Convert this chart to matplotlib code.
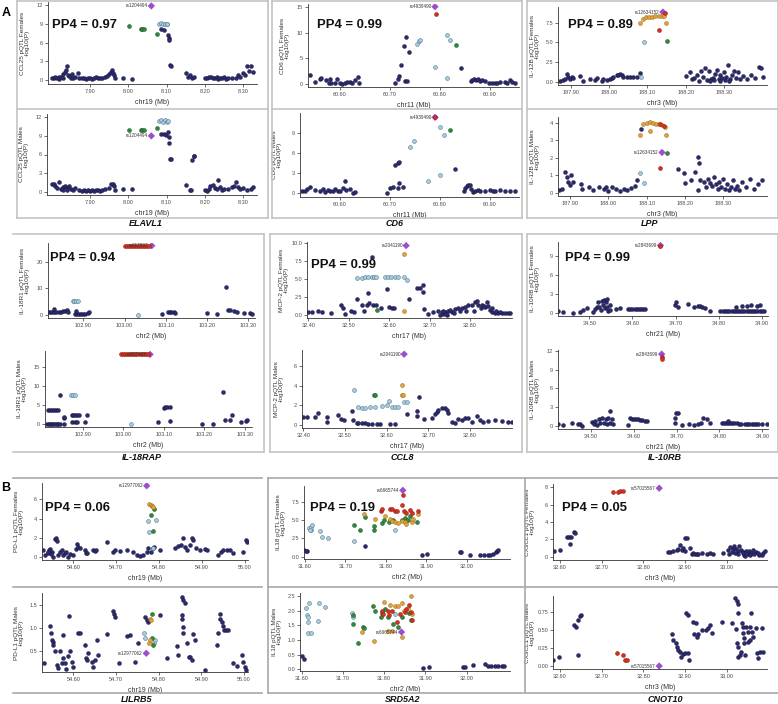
import matplotlib
matplotlib.use("Agg")
import matplotlib.pyplot as plt
from matplotlib.lines import Line2D

plt.rcParams['font.family'] = ['Liberation Sans', 'DejaVu Sans']

# ---------------------------------------------------------------- data
GENES = ["ELAVL1", "CD6", "LPP", "IL-18RAP", "CCL8", "IL-10RB", "LILRB5", "SRD5A2", "CNOT10"]
PROTEINS = ["CCL25", "CD6", "IL-12B", "IL-18R1", "MCP-2", "IL-10RB", "PD-L1", "IL18", "CX3CL1"]
CHROMS = ["chr19", "chr11", "chr3", "chr2", "chr17", "chr21", "chr19", "chr2", "chr3"]
PP4 = [0.97, 0.99, 0.89, 0.94, 0.99, 0.99, 0.06, 0.19, 0.05]
X_TICKS = [[7.90, 8.00, 8.10, 8.20, 8.30], [60.60, 60.70, 60.80, 60.90],
           [187.90, 188.00, 188.10, 188.20, 188.30], [102.90, 103.00, 103.10, 103.20, 103.30],
           [32.40, 32.50, 32.60, 32.70, 32.80], [34.50, 34.60, 34.70, 34.80, 34.90],
           [54.60, 54.70, 54.80, 54.90, 55.00], [31.60, 31.70, 31.80, 31.90, 32.00],
           [32.60, 32.70, 32.80, 32.90, 33.00]]
Y_TICKS_F = [["0", "3", "6", "9", "12"], ["0", "5", "10", "15"], ["0.0", "2.5", "5.0", "7.5"],
             ["0", "10", "20"], ["0.0", "2.5", "5.0", "7.5", "10.0"], ["0", "3", "6", "9"],
             ["0", "2", "4", "6"], ["0.0", "2.5", "5.0", "7.5"], ["0", "2", "4", "6", "8"]]
Y_TICKS_M = [["0", "3", "6", "9", "12"], ["0", "3", "6", "9"], ["0", "1", "2", "3", "4"],
             ["0", "5", "10", "15"], ["0", "2", "4", "6"], ["0", "3", "6", "9", "12"],
             ["0.5", "1.0", "1.5"], ["0.0", "0.5", "1.0", "1.5", "2.0", "2.5"],
             ["0.00", "0.25", "0.50", "0.75"]]
LEAD_SNP = ["rs1204494", "rs4939490", "rs12634152", "rs917997", "rs2041190",
            "rs2843699", "rs12977062", "rs6665744", "rs57015567"]
LEAD_POS = [8.06, 60.79, 188.14, 103.066, 32.642, 34.665, 54.771, 31.842, 32.838]
LEAD_F = [11.85, 15.0, 8.85, 26.0, 9.6, 10.6, 7.4, 9.1, 7.9]
LEAD_M = [9.0, 11.4, 2.3, 18.2, 7.2, 11.5, 0.45, 1.27, 0.0]

# ELAVL1 / CCL25
ELAVL1_F_NAVY = [(7.800,0.4),(7.805,0.3),(7.810,0.5),(7.815,0.4),(7.820,0.2),(7.820,0.6),(7.825,0.5),
    (7.830,1.0),(7.830,0.4),(7.835,1.3),(7.838,1.6),(7.840,2.2),(7.842,0.9),(7.845,0.7),(7.850,0.4),
    (7.852,1.0),(7.855,0.3),(7.860,0.5),(7.868,1.1),(7.872,0.3),(7.880,0.3),(7.885,0.4),(7.890,0.2),
    (7.895,0.3),(7.900,0.4),(7.905,0.2),(7.910,0.3),(7.915,0.5),(7.920,0.3),(7.925,0.4),(7.930,0.3),
    (7.940,0.6),(7.945,0.7),(7.950,1.0),(7.955,1.3),(7.957,1.6),(7.960,1.2),(7.962,0.8),(7.965,0.4),
    (7.985,0.4),(8.010,0.2),(8.085,8.1),(8.092,8.0),(8.104,7.2),(8.105,6.7),(8.106,6.4),(8.108,2.4),
    (8.110,2.3),(8.150,1.1),(8.155,0.6),(8.160,0.9),(8.165,0.3),(8.170,0.5),(8.200,0.4),(8.205,0.3),
    (8.210,0.5),(8.215,0.6),(8.220,0.4),(8.225,0.3),(8.230,0.5),(8.235,0.2),(8.240,0.4),(8.245,0.3),
    (8.250,0.5),(8.255,0.2),(8.260,0.3),(8.270,0.4),(8.280,0.3),(8.285,0.8),(8.290,0.5),(8.300,1.2),
    (8.305,0.8),(8.310,2.2),(8.315,1.5),(8.320,2.3),(8.325,1.4)]
ELAVL1_F_BLUE = [(8.080,9.0),(8.085,9.1),(8.090,9.0),(8.095,9.05),(8.100,8.9),(8.102,9.0)]
ELAVL1_F_GREEN = [(8.003,8.6),(8.033,8.1),(8.036,8.1),(8.040,8.1),(8.075,7.3)]
ELAVL1_M_NAVY = [(7.800,1.2),(7.805,1.3),(7.810,0.9),(7.815,0.6),(7.820,1.5),(7.825,0.4),(7.830,0.8),
    (7.830,0.3),(7.835,1.0),(7.840,0.6),(7.840,0.2),(7.845,0.9),(7.850,0.5),(7.855,0.3),(7.860,0.6),
    (7.870,0.3),(7.880,0.1),(7.885,0.2),(7.890,0.15),(7.895,0.2),(7.900,0.1),(7.905,0.2),(7.910,0.15),
    (7.915,0.2),(7.920,0.25),(7.925,0.15),(7.930,0.2),(7.940,0.5),(7.950,0.6),(7.955,1.2),(7.960,1.3),
    (7.962,0.9),(7.965,0.3),(7.985,0.4),(8.010,0.4),(8.085,9.3),(8.092,9.3),(8.097,9.2),(8.104,9.6),
    (8.105,8.9),(8.106,7.9),(8.108,5.3),(8.110,5.2),(8.150,1.1),(8.160,0.3),(8.163,0.3),(8.167,5.1),
    (8.170,5.7),(8.172,5.8),(8.200,0.2),(8.205,0.1),(8.210,0.4),(8.213,0.9),(8.220,1.1),(8.225,0.6),
    (8.230,0.5),(8.235,1.9),(8.240,0.8),(8.245,0.3),(8.250,0.5),(8.260,0.4),(8.270,0.7),(8.275,1.0),
    (8.280,1.6),(8.285,0.8),(8.290,0.4),(8.300,0.6),(8.310,0.3),(8.320,0.5),(8.325,0.8)]
ELAVL1_M_BLUE = [(8.080,11.4),(8.085,11.5),(8.090,11.3),(8.095,11.5),(8.100,11.2),(8.103,11.4)]
ELAVL1_M_GREEN = [(8.003,10.0),(8.033,10.0),(8.036,10.0),(8.040,10.0),(8.075,10.2)]

# CD6
CD6_F_NAVY = [(60.540,1.8),(60.550,0.4),(60.560,1.1),(60.562,1.2),(60.573,0.9),(60.578,0.3),(60.580,1.0),
    (60.583,0.2),(60.590,0.2),(60.595,1.0),(60.600,0.3),(60.605,0.1),(60.610,0.2),(60.615,0.4),
    (60.620,0.5),(60.625,0.2),(60.630,0.8),(60.637,1.5),(60.638,0.3),(60.710,0.3),(60.716,1.0),
    (60.718,1.6),(60.723,3.7),(60.729,7.4),(60.733,9.1),(60.730,0.6),(60.735,0.6),(60.739,6.3),
    (60.843,3.2),(60.862,0.6),(60.865,0.9),(60.868,1.0),(60.872,0.8),(60.876,1.0),(60.880,0.7),
    (60.885,0.9),(60.890,0.6),(60.898,0.2),(60.905,0.3),(60.910,0.2),(60.915,0.3),(60.920,0.4),
    (60.930,0.5),(60.935,0.3),(60.940,0.8),(60.945,0.4),(60.950,0.3)]
CD6_F_BLUE = [(60.755,7.7),(60.758,8.3),(60.761,8.6),(60.790,3.4),(60.815,9.6),(60.815,1.2),(60.820,8.5)]
CD6_F_GREEN = [(60.832,7.5)]
CD6_F_RED = [(60.793,13.6)]
CD6_M_NAVY = [(60.523,0.4),(60.530,0.3),(60.535,0.6),(60.540,0.9),(60.550,0.5),(60.560,0.3),(60.565,0.7),
    (60.570,0.2),(60.575,0.5),(60.580,0.3),(60.585,0.4),(60.590,0.6),(60.595,0.3),(60.600,0.4),
    (60.605,0.8),(60.610,1.8),(60.612,0.5),(60.620,0.6),(60.625,0.1),(60.630,0.2),(60.693,0.1),
    (60.700,0.8),(60.705,0.9),(60.710,4.3),(60.715,4.6),(60.718,4.7),(60.718,1.6),(60.715,0.8),
    (60.725,0.9),(60.829,3.6),(60.847,0.3),(60.850,0.8),(60.853,1.1),(60.856,1.3),(60.860,1.2),
    (60.862,0.6),(60.865,0.2),(60.870,0.4),(60.875,0.5),(60.880,0.4),(60.890,0.3),(60.900,0.5),
    (60.905,0.4),(60.910,0.3),(60.920,0.5),(60.930,0.3),(60.940,0.4),(60.950,0.3)]
CD6_M_BLUE = [(60.740,7.0),(60.748,7.8),(60.775,1.9),(60.800,9.9),(60.800,2.7),(60.807,8.8)]
CD6_M_GREEN = [(60.819,9.5)]
CD6_M_RED = [(60.790,11.4)]

# LPP / IL-12B
LPP_F_NAVY = [(187.872,0.1),(187.881,0.2),(187.885,0.4),(187.891,1.0),(187.894,0.55),(187.898,0.3),
    (187.903,0.6),(187.907,0.45),(187.924,0.7),(187.931,0.1),(187.950,0.3),(187.963,0.2),(187.968,0.5),
    (187.981,0.15),(187.985,0.3),(187.994,0.2),(188.002,0.35),(188.007,0.5),(188.011,0.55),(188.020,0.9),
    (188.024,0.8),(188.028,1.0),(188.033,0.9),(188.037,0.6),(188.046,0.6),(188.054,0.65),(188.063,0.6),
    (188.072,0.55),(188.080,1.1),(188.200,0.7),(188.210,1.2),(188.215,0.3),(188.220,0.5),
    (188.230,0.9),(188.235,0.1),(188.240,1.3),(188.245,0.6),(188.250,1.8),(188.255,0.2),(188.260,1.3),
    (188.265,0.4),(188.270,0.5),(188.275,1.0),(188.280,1.5),(188.285,0.3),(188.290,0.9),(188.295,0.5),
    (188.300,1.2),(188.305,0.6),(188.310,2.1),(188.315,0.4),(188.320,0.9),(188.325,1.4),(188.330,0.5),
    (188.335,1.2),(188.340,0.4),(188.350,0.7),(188.360,0.3),(188.370,0.8),(188.380,0.5),(188.390,1.9),
    (188.395,1.7),(188.400,0.6),(188.262,0.15),(188.272,0.2),(188.288,0.1),(188.302,0.25),(188.312,0.1)]
LPP_F_BLUE = [(188.082,0.6),(188.090,5.1)]
LPP_F_GREEN = [(188.150,5.2)]
LPP_F_ORANGE = [(188.080,7.5),(188.087,8.0),(188.095,8.2),(188.104,8.2),(188.112,8.2),(188.120,8.3),
    (188.130,8.3),(188.138,8.4),(188.143,8.3),(188.147,7.5)]
LPP_F_RED = [(188.130,6.6),(188.145,8.7)]
LPP_M_NAVY = [(187.872,0.15),(187.880,0.2),(187.887,1.2),(187.891,0.9),(187.895,0.6),(187.900,0.45),
    (187.903,1.0),(187.908,0.6),(187.930,0.5),(187.932,0.2),(187.950,0.3),(187.960,0.15),(187.975,0.3),
    (187.990,0.2),(187.995,0.35),(188.000,0.1),(188.010,0.3),(188.020,0.2),(188.030,0.1),(188.040,0.2),
    (188.050,0.15),(188.060,0.25),(188.070,0.4),(188.075,0.7),(188.085,3.65),(188.183,1.35),
    (188.197,1.1),(188.200,0.55),(188.215,0.7),(188.225,1.2),(188.235,0.15),(188.233,2.05),(188.236,1.7),
    (188.240,0.7),(188.250,0.6),(188.255,0.3),(188.260,0.8),(188.265,0.55),(188.270,0.4),(188.275,0.9),
    (188.280,0.5),(188.285,0.2),(188.290,0.6),(188.295,0.35),(188.300,0.8),(188.305,0.2),(188.310,0.5),
    (188.315,0.15),(188.320,0.3),(188.325,0.7),(188.330,0.2),(188.335,0.4),(188.340,0.15),(188.350,0.6),
    (188.360,0.3),(188.370,0.8),(188.380,0.2),(188.390,0.5),(188.400,0.7)]
LPP_M_BLUE = [(188.083,1.1),(188.094,0.55)]
LPP_M_GREEN = [(188.152,2.25)]
LPP_M_ORANGE = [(188.083,3.3),(188.090,3.9),(188.100,4.0),(188.108,4.05),(188.117,4.0),(188.125,3.95),
    (188.133,3.9),(188.140,3.85),(188.148,3.75),(188.150,3.3),(188.110,3.5)]
LPP_M_RED = [(188.135,3.9),(188.145,3.8),(188.135,1.4)]

# IL-18RAP / IL-18R1
IL18RAP_F_NAVY = [(102.815,1.1),(102.820,1.2),(102.825,1.1),(102.830,1.3),(102.835,1.2),(102.840,1.2),
    (102.845,1.3),(102.850,1.4),(102.830,2.2),(102.855,1.5),(102.860,1.9),(102.862,1.0),(102.880,0.4),
    (102.885,0.3),(102.890,0.4),(102.895,0.3),(102.900,0.4),(102.905,0.35),(102.882,1.5),(102.912,0.9),
    (102.915,1.2),(103.090,0.3),(103.105,1.0),(103.110,1.1),(103.113,1.0),(103.120,1.0),(103.122,0.6),
    (103.200,0.6),(103.225,0.2),(103.245,10.4),(103.250,1.9),(103.255,1.9),(103.265,1.6),(103.272,1.2),
    (103.290,0.8),(103.305,0.7),(103.310,0.3)]
IL18RAP_F_BLUE = [(102.874,5.4),(102.878,5.4),(102.882,5.4),(102.886,5.4),(103.032,0.0)]
IL18RAP_F_RED = [(103.000,26.0),(103.005,26.0),(103.010,26.0),(103.015,26.0),(103.020,26.0),
    (103.025,26.0),(103.030,26.0),(103.035,26.0),(103.040,26.0),(103.045,26.0),(103.050,26.0),
    (103.055,26.0),(103.060,26.0)]
IL18RAP_M_NAVY = [(102.812,0.0),(102.816,0.0),(102.820,0.0),(102.824,0.0),(102.828,0.0),(102.832,0.0),
    (102.836,0.0),(102.840,0.0),(102.844,0.0),(102.815,3.7),(102.820,3.7),(102.825,3.7),(102.830,3.7),
    (102.835,3.7),(102.840,3.7),(102.845,7.7),(102.853,1.6),(102.855,1.9),(102.853,0.0),(102.873,2.3),
    (102.877,2.3),(102.882,2.3),(102.886,2.3),(102.890,2.3),(102.910,2.3),(102.873,0.5),(102.880,0.5),
    (102.887,0.5),(102.905,0.5),(103.085,0.7),(103.100,4.3),(103.103,4.4),(103.107,4.4),(103.115,4.4),
    (103.115,0.8),(103.195,0.1),(103.220,0.0),(103.245,8.3),(103.250,1.1),(103.262,1.1),(103.268,2.5),
    (103.290,0.7),(103.302,0.9),(103.305,1.1)]
IL18RAP_M_BLUE = [(102.872,7.7),(102.876,7.7),(102.880,7.7),(103.020,0.0)]
IL18RAP_M_RED = [(102.995,18.2),(103.000,18.2),(103.005,18.2),(103.010,18.2),(103.015,18.2),
    (103.020,18.2),(103.025,18.2),(103.030,18.2),(103.035,18.2),(103.040,18.2),(103.045,18.2),
    (103.050,18.2),(103.055,18.2),(103.060,18.2)]

# CCL8 / MCP-2
CCL8_F_NAVY = [(32.400,0.4),(32.408,0.4),(32.425,0.6),(32.433,0.4),(32.457,0.3),(32.480,1.4),(32.486,1.0),
    (32.490,0.1),(32.506,0.6),(32.513,0.4),(32.520,2.2),(32.534,1.4),(32.538,0.6),(32.546,1.4),(32.548,3.1),
    (32.550,1.6),(32.557,8.0),(32.560,1.4),(32.568,1.4),(32.580,1.0),(32.594,3.6),(32.600,1.1),
    (32.608,1.0),(32.612,0.9),(32.650,2.2),(32.670,3.8),(32.676,3.8),(32.684,4.1),(32.684,3.2),
    (32.686,0.8),(32.697,0.2),(32.709,0.4),(32.721,0.5),(32.725,0.0),(32.730,0.4),(32.734,0.1),
    (32.738,0.4),(32.742,0.0),(32.746,0.5),(32.755,0.4),(32.763,0.8),(32.771,0.9),(32.780,1.0),
    (32.788,1.1),(32.796,1.4),(32.804,1.4),(32.813,1.8),(32.817,1.9),(32.821,1.4),(32.829,1.4),
    (32.837,1.1),(32.842,1.8),(32.850,0.7),(32.854,0.4),(32.862,0.3),(32.870,0.3),(32.878,0.3),
    (32.886,0.3),(32.894,0.3),(32.900,0.3),(32.732,0.6),(32.740,0.2),(32.750,0.7),(32.760,0.3),
    (32.775,0.5),(32.790,0.6),(32.810,0.6),(32.826,0.9),(32.835,1.2),(32.845,1.2),(32.855,0.9),
    (32.865,0.5),(32.875,0.4)]
CCL8_F_BLUE = [(32.520,5.1),(32.532,5.1),(32.540,5.2),(32.548,5.3),(32.557,5.3),(32.563,5.3),(32.568,5.2),
    (32.589,5.2),(32.597,5.2),(32.605,5.3),(32.614,5.2),(32.622,5.2),(32.637,5.3),(32.643,4.9)]
CCL8_F_GREEN = [(32.570,0.7)]
CCL8_F_ORANGE = [(32.636,8.4),(32.636,0.5)]
CCL8_M_NAVY = [(32.400,0.85),(32.408,0.85),(32.428,0.85),(32.436,1.2),(32.456,0.85),(32.458,0.35),
    (32.484,1.0),(32.490,0.6),(32.498,0.5),(32.516,1.4),(32.520,0.5),(32.528,0.2),(32.532,0.2),
    (32.540,0.2),(32.548,0.2),(32.556,0.1),(32.566,0.1),(32.576,0.1),(32.584,0.1),(32.608,0.15),
    (32.620,0.15),(32.648,1.1),(32.672,1.4),(32.674,0.9),(32.678,2.8),(32.690,0.6),(32.708,0.75),
    (32.716,1.1),(32.720,1.35),(32.724,1.5),(32.732,1.7),(32.740,1.7),(32.744,1.5),(32.748,1.2),
    (32.756,0.35),(32.764,0.25),(32.772,0.6),(32.780,0.5),(32.788,0.7),(32.796,0.7),(32.804,0.35),
    (32.816,0.95),(32.824,0.5),(32.832,0.35),(32.844,0.4),(32.860,0.5),(32.876,0.4),(32.892,0.3),
    (32.900,0.35)]
CCL8_M_BLUE = [(32.522,3.6),(32.532,1.85),(32.540,1.7),(32.548,1.75),(32.560,1.85),(32.572,1.85),
    (32.588,1.95),(32.600,2.0),(32.606,2.4),(32.612,1.85),(32.620,1.85),(32.628,1.85),(32.642,2.3),
    (32.648,2.3)]
CCL8_M_GREEN = [(32.570,3.1),(32.573,3.1)]
CCL8_M_ORANGE = [(32.638,4.1),(32.636,3.1),(32.639,3.1)]

# IL-10RB
IL10RB_F_NAVY = [(34.428,0.35),(34.440,0.15),(34.463,0.1),(34.478,0.25),(34.486,0.5),(34.494,0.8),
    (34.509,0.25),(34.513,0.75),(34.517,1.0),(34.521,1.8),(34.523,1.0),(34.526,0.5),(34.529,1.9),
    (34.531,1.3),(34.534,2.1),(34.536,0.8),(34.538,1.7),(34.540,2.2),(34.542,1.0),(34.544,0.4),
    (34.547,1.3),(34.548,0.5),(34.562,0.65),(34.571,0.8),(34.590,0.75),(34.595,0.7),(34.600,0.7),
    (34.605,0.65),(34.610,0.7),(34.615,0.6),(34.620,0.7),(34.625,0.65),(34.630,0.7),(34.699,1.3),
    (34.702,1.8),(34.705,1.0),(34.730,1.5),(34.742,1.0),(34.753,1.2),(34.756,1.2),(34.761,1.0),
    (34.769,0.9),(34.779,0.4),(34.804,0.35),(34.810,0.3),(34.815,0.35),(34.820,0.3),(34.825,0.35),
    (34.830,0.4),(34.835,0.3),(34.840,0.35),(34.845,0.3),(34.850,0.35),(34.855,0.35),(34.860,0.3),
    (34.865,0.35),(34.870,0.3),(34.875,0.35),(34.880,0.3),(34.885,0.35),(34.890,0.3),(34.895,0.35),
    (34.900,0.35),(34.905,0.3),(34.840,1.0),(34.855,1.2),(34.865,1.2),(34.875,1.3),(34.890,1.2),
    (34.895,1.3)]
IL10RB_F_RED = [(34.665,10.5)]
IL10RB_M_NAVY = [(34.424,0.2),(34.435,0.1),(34.455,0.5),(34.470,0.35),(34.474,0.2),(34.478,0.0),
    (34.502,0.6),(34.506,0.3),(34.510,0.8),(34.514,0.1),(34.518,1.1),(34.522,0.5),(34.526,1.2),
    (34.530,0.4),(34.534,1.0),(34.538,0.2),(34.540,1.2),(34.544,0.5),(34.545,2.3),(34.548,1.1),
    (34.552,0.3),(34.587,0.1),(34.590,1.2),(34.595,1.1),(34.600,1.1),(34.605,1.0),(34.610,1.0),
    (34.615,0.9),(34.620,0.9),(34.625,0.8),(34.630,0.7),(34.696,1.2),(34.698,2.1),(34.702,2.0),
    (34.695,0.5),(34.713,0.1),(34.729,0.2),(34.741,0.1),(34.751,0.35),(34.758,0.4),(34.762,1.3),
    (34.770,1.1),(34.778,0.5),(34.805,0.4),(34.810,0.45),(34.815,0.4),(34.820,0.45),(34.825,0.4),
    (34.830,0.5),(34.835,0.4),(34.840,0.45),(34.845,0.3),(34.850,0.35),(34.860,0.3),(34.865,0.35),
    (34.870,0.3),(34.875,0.35),(34.880,0.3),(34.885,0.35),(34.890,0.3),(34.900,0.35),(34.910,0.3),
    (34.820,0.7)]
IL10RB_M_RED = [(34.665,11.0),(34.665,10.7)]

# LILRB5 / PD-L1
LILRB5_F_NAVY = [(54.530,0.8),(54.542,0.4),(54.544,0.75),(54.546,0.9),(54.550,0.6),(54.553,0.05),
    (54.557,1.85),(54.560,2.0),(54.561,1.7),(54.565,0.25),(54.569,0.5),(54.573,0.75),(54.577,0.25),
    (54.581,0.4),(54.584,0.6),(54.588,0.05),(54.592,0.35),(54.600,0.25),(54.606,0.9),(54.608,1.4),
    (54.612,1.1),(54.616,1.0),(54.627,0.75),(54.630,0.4),(54.631,0.4),(54.647,0.8),(54.650,0.7),
    (54.654,0.75),(54.679,1.55),(54.693,0.6),(54.697,0.75),(54.709,0.7),(54.724,0.75),(54.740,0.6),
    (54.748,0.25),(54.755,0.15),(54.763,0.25),(54.771,0.6),(54.775,0.95),(54.782,0.6),(54.785,1.0),
    (54.788,1.05),(54.802,0.8),(54.837,1.0),(54.845,1.2),(54.852,1.3),(54.856,1.95),(54.860,1.1),
    (54.864,0.75),(54.872,1.3),(54.876,1.95),(54.880,1.8),(54.887,1.0),(54.895,0.75),(54.907,0.9),
    (54.911,0.8),(54.938,0.25),(54.945,0.6),(54.949,0.75),(54.957,0.8),(54.965,0.8),(54.973,0.4),
    (54.996,0.5),(55.002,1.8),(55.005,1.6),(54.535,0.2),(54.540,0.5),(54.548,0.3)]
LILRB5_F_BLUE = [(54.775,3.8),(54.777,2.6),(54.785,1.0),(54.793,3.9)]
LILRB5_F_GREEN = [(54.781,4.4),(54.785,2.7),(54.789,5.0)]
LILRB5_F_ORANGE = [(54.776,5.5),(54.780,5.4),(54.783,5.3),(54.786,5.2)]
LILRB5_M_NAVY = [(54.531,0.23),(54.545,1.04),(54.547,0.89),(54.549,0.74),(54.552,0.70),(54.553,0.63),
    (54.557,0.49),(54.561,0.19),(54.565,0.12),(54.569,0.49),(54.573,0.23),(54.577,0.34),(54.577,0.85),
    (54.580,0.23),(54.584,0.10),(54.588,0.38),(54.591,1.27),(54.592,0.49),(54.596,0.27),(54.600,0.16),
    (54.612,0.90),(54.616,0.90),(54.627,0.63),(54.630,0.34),(54.631,0.30),(54.635,0.46),(54.643,0.27),
    (54.647,0.16),(54.651,0.30),(54.655,0.74),(54.659,0.41),(54.678,0.88),(54.694,1.38),(54.695,1.31),
    (54.698,1.25),(54.708,0.23),(54.725,0.83),(54.734,0.86),(54.745,0.25),(54.751,0.68),(54.768,1.25),
    (54.772,1.17),(54.776,1.14),(54.803,1.29),(54.819,0.34),(54.842,0.60),(54.846,0.41),(54.854,1.68),
    (54.858,1.62),(54.862,1.54),(54.854,1.29),(54.855,1.21),(54.856,1.03),(54.858,0.89),(54.866,0.68),
    (54.870,0.37),(54.873,0.37),(54.877,0.30),(54.881,0.88),(54.885,0.74),(54.909,0.09),(54.936,0.63),
    (54.940,0.89),(54.944,1.31),(54.944,1.20),(54.948,1.13),(54.950,1.04),(54.953,0.97),(54.958,0.96),
    (54.963,0.96),(54.975,0.23),(54.984,0.17),(54.995,0.41),(54.998,0.27),(55.002,0.16),(55.005,0.09)]
LILRB5_M_BLUE = [(54.766,0.89),(54.768,0.78),(54.788,0.67),(54.791,0.74)]
LILRB5_M_GREEN = [(54.784,1.30),(54.784,0.78),(54.786,0.63)]
LILRB5_M_ORANGE = [(54.780,1.20),(54.783,1.18),(54.777,0.67),(54.779,0.74)]

# SRD5A2 / IL18
SRD5A2_F_NAVY = [(31.598,0.9),(31.604,0.8),(31.602,0.85),(31.748,1.45),(31.889,0.23),(31.901,0.37),
    (31.983,0.68),(31.987,0.59),(32.008,0.23),(32.033,0.23),(32.044,0.23),(32.053,0.23),(32.058,0.23),
    (32.066,0.37),(32.072,0.68),(32.076,0.78),(32.078,0.9)]
SRD5A2_F_BLUE = [(31.611,4.0),(31.615,3.7),(31.616,4.1),(31.612,3.6),(31.618,4.3),(31.637,3.5),
    (31.641,2.7),(31.656,2.5),(31.721,2.2),(31.823,3.7)]
SRD5A2_F_GREEN = [(31.722,4.4),(31.736,3.6),(31.748,5.5),(31.771,4.2),(31.771,3.6),(31.791,4.6),
    (31.796,5.0),(31.809,4.7),(31.818,5.1),(31.839,5.1),(31.847,5.3),(31.856,5.0),(31.860,5.6),
    (31.878,4.7)]
SRD5A2_F_ORANGE = [(31.746,5.9),(31.773,5.2),(31.798,5.6),(31.810,5.2),(31.814,4.9),(31.823,4.7),
    (31.831,4.6),(31.839,4.9),(31.847,4.8),(31.851,4.5),(31.864,4.8),(31.868,5.2),(31.880,5.9)]
SRD5A2_F_RED = [(31.788,6.2),(31.791,6.5),(31.810,6.6),(31.814,6.5),(31.823,6.3),(31.827,6.2),
    (31.839,7.1),(31.846,6.3),(31.849,6.0),(31.860,6.4),(31.864,6.0),(31.880,6.2),(31.842,8.4)]
SRD5A2_M_NAVY = [(31.600,0.47),(31.606,0.34),(31.895,0.06),(31.909,0.09),(31.992,0.09),(31.996,0.09),
    (32.016,0.15),(32.044,0.18),(32.052,0.11),(32.060,0.11),(32.069,0.11),(32.077,0.11),(32.085,0.11),
    (32.091,0.12)]
SRD5A2_M_BLUE = [(31.610,2.1),(31.618,2.25),(31.612,1.85),(31.616,1.6),(31.615,1.77),(31.616,1.25),
    (31.623,1.23),(31.643,2.25),(31.640,1.65),(31.657,2.13),(31.723,1.93),(31.725,1.8),(31.826,1.9)]
SRD5A2_M_GREEN = [(31.725,1.85),(31.725,1.53),(31.737,0.9),(31.749,1.45),(31.751,1.42),(31.774,2.15),
    (31.778,2.0),(31.794,1.93),(31.792,1.8),(31.802,2.07),(31.810,1.8),(31.822,1.53),(31.834,1.45),
    (31.860,1.93),(31.865,1.68),(31.842,1.8)]
SRD5A2_M_ORANGE = [(31.747,1.28),(31.776,0.98),(31.800,2.28),(31.814,2.2),(31.825,2.15),(31.834,2.15),
    (31.842,2.25),(31.848,2.0),(31.857,2.1),(31.865,2.5),(31.867,1.9),(31.842,1.1),(31.818,1.3),
    (31.810,1.3)]
SRD5A2_M_RED = [(31.794,2.0),(31.798,1.9),(31.810,2.0),(31.812,1.85),(31.818,2.0),(31.830,1.6),
    (31.838,1.9),(31.850,1.95),(31.854,2.05),(31.865,1.97),(31.867,1.67),(31.859,2.2)]

# CNOT10 / CX3CL1
CNOT10_F_NAVY = [(32.586,0.7),(32.600,0.75),(32.616,2.3),(32.622,2.3),(32.626,2.3),(32.624,1.45),
    (32.634,2.9),(32.635,2.7),(32.860,0.5),(32.864,0.5),(32.872,0.6),(32.880,0.75),(32.884,0.85),
    (32.888,1.3),(32.892,0.75),(32.896,0.95),(32.900,2.2),(32.904,2.2),(32.900,0.6),(32.912,1.0),
    (32.916,0.3),(32.920,0.4),(32.924,0.3),(32.928,0.3),(32.932,0.3),(32.940,0.4),(32.952,0.35),
    (32.960,0.45),(32.968,0.3),(32.992,0.4),(33.004,0.8),(33.008,1.1),(33.014,0.9),(33.018,1.2),
    (33.022,0.9),(33.026,0.7),(33.030,1.2),(33.034,0.8),(33.038,0.5),(33.042,0.2),(33.046,0.6),
    (33.050,0.3),(33.054,0.6),(33.058,0.4),(33.062,0.8),(33.070,0.5),(33.078,0.2),(33.086,0.4),
    (33.092,0.6),(33.006,0.3),(33.012,0.5),(33.020,0.4),(33.028,0.3),(33.040,0.4),(33.045,0.1),
    (33.055,0.2),(33.065,0.3),(33.075,0.4),(33.085,0.2)]
CNOT10_F_RED = [(32.726,7.5),(32.740,7.5),(32.744,7.6),(32.750,7.6)]
CNOT10_M_NAVY = [(32.584,0.09),(32.598,0.12),(32.634,0.57),(32.638,0.54),(32.642,0.64),(32.648,0.70),
    (32.650,0.71),(32.642,0.15),(32.868,0.45),(32.872,0.37),(32.878,0.32),(32.880,0.26),(32.884,0.23),
    (32.888,0.20),(32.890,0.13),(32.896,0.17),(32.900,0.18),(32.902,0.74),(32.906,0.71),(32.908,0.18),
    (32.910,0.08),(32.920,0.61),(32.922,0.45),(32.926,0.60),(32.928,0.41),(32.932,0.45),(32.940,0.50),
    (32.950,0.50),(32.956,0.53),(32.960,0.57),(32.964,0.46),(32.988,0.62),(33.012,0.60),(33.020,0.95),
    (33.024,0.91),(33.026,0.86),(33.028,0.74),(33.022,0.51),(33.024,0.32),(33.026,0.27),(33.028,0.13),
    (33.032,0.15),(33.034,0.20),(33.036,0.60),(33.038,0.55),(33.040,0.46),(33.041,0.39),(33.042,0.32),
    (33.044,0.15),(33.046,0.55),(33.050,0.48),(33.052,0.34),(33.056,0.37),(33.057,0.55),(33.058,0.74),
    (33.060,0.48),(33.064,0.41),(33.070,0.53),(33.072,0.18),(33.074,0.11),(33.080,0.20),(33.084,0.53),
    (33.088,0.20)]
CNOT10_M_RED = [(32.736,0.18),(32.752,0.16),(32.756,0.08),(32.760,0.08)]

# ---------------------------------------------------------------- styles
COL = {
    'navy': ('#2b2a6c', '#17163f'),
    'blue': ('#a8cde0', '#4b6f80'),
    'green': ('#2f8a3a', '#1b5522'),
    'orange': ('#e3a33a', '#9a6818'),
    'red': ('#d7301f', '#8a1a10'),
}
LEAD_COLOR = '#9b4fcf'

F_GROUPS = [
    {'navy': ELAVL1_F_NAVY, 'blue': ELAVL1_F_BLUE, 'green': ELAVL1_F_GREEN},
    {'navy': CD6_F_NAVY, 'blue': CD6_F_BLUE, 'green': CD6_F_GREEN, 'red': CD6_F_RED},
    {'navy': LPP_F_NAVY, 'blue': LPP_F_BLUE, 'green': LPP_F_GREEN, 'orange': LPP_F_ORANGE, 'red': LPP_F_RED},
    {'navy': IL18RAP_F_NAVY, 'blue': IL18RAP_F_BLUE, 'red': IL18RAP_F_RED},
    {'navy': CCL8_F_NAVY, 'blue': CCL8_F_BLUE, 'green': CCL8_F_GREEN, 'orange': CCL8_F_ORANGE},
    {'navy': IL10RB_F_NAVY, 'red': IL10RB_F_RED},
    {'navy': LILRB5_F_NAVY, 'blue': LILRB5_F_BLUE, 'green': LILRB5_F_GREEN, 'orange': LILRB5_F_ORANGE},
    {'navy': SRD5A2_F_NAVY, 'blue': SRD5A2_F_BLUE, 'green': SRD5A2_F_GREEN, 'orange': SRD5A2_F_ORANGE,
     'red': SRD5A2_F_RED},
    {'navy': CNOT10_F_NAVY, 'red': CNOT10_F_RED},
]
M_GROUPS = [
    {'navy': ELAVL1_M_NAVY, 'blue': ELAVL1_M_BLUE, 'green': ELAVL1_M_GREEN},
    {'navy': CD6_M_NAVY, 'blue': CD6_M_BLUE, 'green': CD6_M_GREEN, 'red': CD6_M_RED},
    {'navy': LPP_M_NAVY, 'blue': LPP_M_BLUE, 'green': LPP_M_GREEN, 'orange': LPP_M_ORANGE, 'red': LPP_M_RED},
    {'navy': IL18RAP_M_NAVY, 'blue': IL18RAP_M_BLUE, 'red': IL18RAP_M_RED},
    {'navy': CCL8_M_NAVY, 'blue': CCL8_M_BLUE, 'green': CCL8_M_GREEN, 'orange': CCL8_M_ORANGE},
    {'navy': IL10RB_M_NAVY, 'red': IL10RB_M_RED},
    {'navy': LILRB5_M_NAVY, 'blue': LILRB5_M_BLUE, 'green': LILRB5_M_GREEN, 'orange': LILRB5_M_ORANGE},
    {'navy': SRD5A2_M_NAVY, 'blue': SRD5A2_M_BLUE, 'green': SRD5A2_M_GREEN, 'orange': SRD5A2_M_ORANGE,
     'red': SRD5A2_M_RED},
    {'navy': CNOT10_M_NAVY, 'red': CNOT10_M_RED},
]

# ---------------------------------------------------------------- layout (pixels)
W, H = 778, 704
# axes box (L, R, T, B) and calibration (value1, pixel1, value2, pixel2)
LAYOUT_F = [
    ((48, 257, 2, 84), (7.90, 90, 8.20, 205), (0, 80.3, 12, 5)),
    ((308, 519, 4, 87), (60.60, 340, 60.90, 490), (0, 84.3, 15, 6.7)),
    ((558, 767, 7, 85), (187.90, 570.7, 188.30, 724.3), (0, 81.7, 7.5, 22.7)),
    ((48, 255, 243, 318), (102.90, 83.3, 103.30, 248.3), (0, 315, 20, 261.7)),
    ((307, 512, 242, 318), (32.40, 308.3, 32.80, 470), (0, 315, 10, 242.7)),
    ((558, 768, 242, 316), (34.50, 589.3, 34.90, 761.7), (0, 313.3, 9, 255.7)),
    ((42, 248, 483, 560), (54.60, 73.3, 55.00, 245), (0, 557.3, 6, 499.3)),
    ((304, 510, 486, 559), (31.60, 305, 32.00, 466.7), (0, 556.7, 7.5, 502)),
    ((553, 767, 484, 560), (32.60, 560, 33.00, 726.7), (0, 556.7, 8, 487.3)),
]
LAYOUT_M = [
    ((47, 257, 114, 195), (7.90, 90, 8.20, 205), (0, 191.7, 12, 117.3)),
    ((300, 519, 113, 197), (60.60, 340, 60.90, 490), (0, 193.3, 9, 133.3)),
    ((558, 767, 117, 196), (187.90, 570, 188.20, 685), (0, 192.7, 4, 122.7)),
    ((45, 252, 351, 427), (102.90, 82.7, 103.30, 245), (0, 424.3, 15, 366.7)),
    ((302, 512, 350, 428), (32.40, 303.3, 32.80, 470), (0, 425, 6, 366)),
    ((558, 768, 350, 429), (34.50, 591, 34.90, 762.3), (0, 425.7, 12, 351)),
    ((42, 248, 593, 672), (54.60, 73.3, 55.00, 244), (0.5, 651, 1.5, 605.3)),
    ((300, 510, 593, 671), (31.60, 301.7, 32.00, 466.7), (0, 669.3, 2.5, 596)),
    ((553, 767, 596, 669), (32.60, 560, 33.00, 726.7), (0, 666, 0.75, 612.3)),
]
PP4_POS = [(52, 25), (317, 25), (568, 25), (50, 258), (311, 265), (565, 258),
           (45, 508), (310, 508), (562, 508)]
GENE_POS = [(146, 224), (395, 224), (650, 224), (142, 457), (402, 457), (665, 457),
            (137, 699), (403, 699), (665, 699)]

fig = plt.figure(figsize=(W / 100, H / 100), dpi=100)
fig.patch.set_facecolor('white')

def fx(p):
    return p / W

def fy(p):
    return 1 - p / H

def hline(x0, x1, y, color='#c4c4c4', lw=1.2):
    fig.add_artist(Line2D([fx(x0), fx(x1)], [fy(y), fy(y)], color=color, lw=lw))

def vline(x, y0, y1, color='#c4c4c4', lw=1.2):
    fig.add_artist(Line2D([fx(x), fx(x)], [fy(y0), fy(y1)], color=color, lw=lw))

# panel frames
for (x0, x1) in [(17, 268), (272, 522), (527, 778)]:
    hline(x0, x1, 0.5); hline(x0, x1, 109); hline(x0, x1, 218)
    vline(x0, 0, 218); vline(x1, 0, 218)
for (x0, x1) in [(13, 264), (270, 522), (527, 778)]:
    hline(x0, x1, 234); hline(x0, x1, 452)
    vline(x1, 234, 452)
    if x0 > 100:
        vline(x0, 234, 452)
for (x0, x1) in [(13, 262), (268, 523), (525, 778)]:
    hline(x0, x1, 478, color='#a8a8a8'); hline(x0, x1, 587, color='#a8a8a8')
    hline(x0, x1, 693, color='#a8a8a8')
    if x0 > 100:
        vline(x0, 478, 693, color='#a8a8a8')


def lim_from(cal, p0, p1):
    v1, q1, v2, q2 = cal
    s = (v2 - v1) / (q2 - q1)
    return v1 + (p0 - q1) * s, v1 + (p1 - q1) * s


def make_axes(box, xcal, ycal):
    L, R, T, B = box
    ax = fig.add_axes([fx(L), fy(B), (R - L) / W, (B - T) / H])
    ax.set_xlim(*lim_from(xcal, L, R))
    ax.set_ylim(*lim_from(ycal, B, T))
    for s in ['top', 'right']:
        ax.spines[s].set_visible(False)
    for s in ['left', 'bottom']:
        ax.spines[s].set_color('#333333')
        ax.spines[s].set_linewidth(0.6)
    ax.tick_params(axis='both', labelsize=4, colors='#333333', length=2, width=0.5, pad=1.5,
                   labelcolor='#4d4d4d')
    ax.set_facecolor('none')
    return ax


def draw_panel(ax, groups, lead_x, lead_y, lead_name, xticks, yticks, xlabel, ylabel, box):
    L, R, T, B = box
    g = groups.get('navy')
    if g:
        ax.scatter([p[0] for p in g], [p[1] for p in g], s=8, c=COL['navy'][0],
                   edgecolors=COL['navy'][1], linewidths=0.3, zorder=2)
    ax.scatter([lead_x], [lead_y], s=14, marker='D', c=LEAD_COLOR, edgecolors='none', zorder=3)
    for key in ['blue', 'green', 'orange', 'red']:
        g = groups.get(key)
        if g:
            ax.scatter([p[0] for p in g], [p[1] for p in g], s=8, c=COL[key][0],
                       edgecolors=COL[key][1], linewidths=0.35, zorder=4)
    ax.annotate(lead_name, (lead_x, lead_y), xytext=(-2.5, 0), textcoords='offset points',
                ha='right', va='center', fontsize=3.3, color='#333333', zorder=5)
    ax.set_xticks(xticks)
    ax.set_xticklabels(['%.2f' % v for v in xticks])
    ax.set_yticks([float(t) for t in yticks])
    ax.set_yticklabels(yticks)
    ax.set_xlabel(xlabel, fontsize=5, color='#333333')
    ax.set_ylabel(ylabel, fontsize=4.6, color='#333333', linespacing=1.0)
    ax.xaxis.set_label_coords(0.5, -15.0 / (B - T))
    ax.yaxis.set_label_coords(-18.0 / (R - L), 0.5)


for i in range(9):
    boxF, xcF, ycF = LAYOUT_F[i]
    axF = make_axes(boxF, xcF, ycF)
    draw_panel(axF, F_GROUPS[i], LEAD_POS[i], LEAD_F[i], LEAD_SNP[i], X_TICKS[i], Y_TICKS_F[i],
               CHROMS[i] + ' (Mb)', PROTEINS[i] + ' pQTL Females\n-log10(P)', boxF)
    boxM, xcM, ycM = LAYOUT_M[i]
    axM = make_axes(boxM, xcM, ycM)
    draw_panel(axM, M_GROUPS[i], LEAD_POS[i], LEAD_M[i], LEAD_SNP[i], X_TICKS[i], Y_TICKS_M[i],
               CHROMS[i] + ' (Mb)', PROTEINS[i] + ' pQTL Males\n-log10(P)', boxM)
    px, py = PP4_POS[i]
    fig.text(fx(px), fy(py), 'PP4 = %.2f' % PP4[i], fontsize=9.4, fontweight='bold',
             ha='left', va='center', color='#111111')
    gx, gy = GENE_POS[i]
    fig.text(fx(gx), fy(gy), GENES[i], fontsize=6.5, fontweight='bold', fontstyle='italic',
             ha='center', va='center', color='#111111')

fig.text(fx(1.5), fy(13), 'A', fontsize=9, fontweight='bold', ha='left', va='center')
fig.text(fx(1.5), fy(488), 'B', fontsize=9, fontweight='bold', ha='left', va='center')

fig.savefig('out.png', dpi=100, facecolor='white')
